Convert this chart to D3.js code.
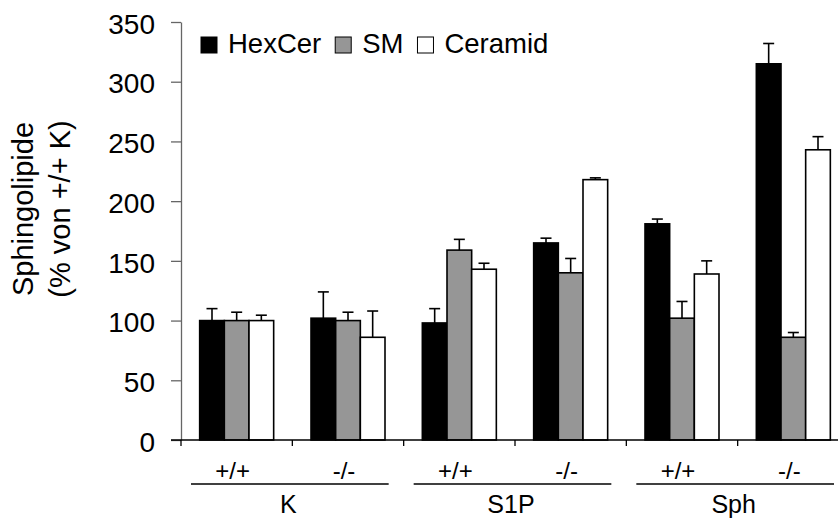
<!DOCTYPE html>
<html>
<head>
<meta charset="utf-8">
<script src="https://cdn.jsdelivr.net/npm/d3@7"></script>
<style>
  body { margin: 0; background: #fff; }
  text { font-family: "Liberation Sans", Arial, sans-serif; fill: #000; }
</style>
</head>
<body>
<div id="wrapper"></div>
<script>
const groups = ["K", "S1P", "Sph"]
const genotypes = ["+/+", "-/-"]
const series = ["HexCer", "SM", "Ceramid"]
const seriesColors = ["#000000", "#969696", "#ffffff"]

// one value per group x genotype: K +/+, K -/-, S1P +/+, S1P -/-, Sph +/+, Sph -/-
const hexcer = [100, 102, 98, 165, 181, 315]
const hexcerErr = [10, 22, 12, 4, 4, 17]
const sm = [100, 100, 159, 140, 102, 86]
const smErr = [7, 7, 9, 12, 14, 4]
const ceramid = [100, 86, 143, 218, 139, 243]
const ceramidErr = [4.5, 22, 5, 1.5, 11, 11]

const yTicks = [0, 50, 100, 150, 200, 250, 300, 350]

function drawChart() {
    const categories = []
    groups.forEach(g => genotypes.forEach(t => categories.push(g + " " + t)))

    const valuesBySeries = [hexcer, sm, ceramid]
    const errBySeries = [hexcerErr, smErr, ceramidErr]

    const dataset = []
    categories.forEach((c, i) => {
        series.forEach((s, j) => {
            dataset.push({
                category: c,
                series: s,
                value: valuesBySeries[j][i],
                err: errBySeries[j][i],
                color: seriesColors[j]
            })
        })
    })

    const dimensions = {
        width: 838,
        height: 518,
        margin: { top: 22, right: 0, bottom: 78, left: 181 },
    }
    dimensions.boundedHeight = dimensions.height
        - dimensions.margin.top
        - dimensions.margin.bottom

    const wrapper = d3.select("#wrapper")
        .append("svg")
        .attr("width", dimensions.width)
        .attr("height", dimensions.height)

    const bounds = wrapper.append("g")
        .attr("transform", `translate(${dimensions.margin.left},${dimensions.margin.top})`)

    // the last band runs past the right edge of the picture
    const xScale = d3.scaleBand()
        .domain(categories)
        .range([0, 668])
        .padding(0)

    const groupWidth = 74
    const innerScale = d3.scaleBand()
        .domain(series)
        .range([(xScale.bandwidth() - groupWidth) / 2, (xScale.bandwidth() + groupWidth) / 2])
        .padding(0)

    const yScale = d3.scaleLinear()
        .domain([0, 350])
        .range([dimensions.boundedHeight, 0])

    // y axis
    const yAxisGenerator = d3.axisLeft(yScale)
        .tickValues(yTicks)
        .tickSize(10)
        .tickPadding(16)
        .tickSizeOuter(0)

    const yAxis = bounds.append("g").call(yAxisGenerator)
    yAxis.select(".domain").attr("stroke", "#666").attr("stroke-width", 1.3)
    yAxis.selectAll(".tick line").attr("stroke", "#666").attr("stroke-width", 1.3)
    yAxis.selectAll(".tick text")
        .attr("font-size", 28)
        .attr("font-family", "Liberation Sans, Arial, sans-serif")
        .attr("fill", "#000")
        .attr("dy", "0.4em")

    // bars
    const bars = bounds.append("g")
    bars.selectAll("rect")
        .data(dataset)
        .join("rect")
        .attr("x", d => xScale(d.category) + innerScale(d.series))
        .attr("y", d => yScale(d.value))
        .attr("width", innerScale.bandwidth())
        .attr("height", d => yScale(0) - yScale(d.value))
        .attr("fill", d => d.color)
        .attr("stroke", "#000")
        .attr("stroke-width", 1.6)

    // error bars
    const errs = bounds.append("g")
        .attr("stroke", "#000")
        .attr("stroke-width", 1.6)
    const cx = d => xScale(d.category) + innerScale(d.series) + innerScale.bandwidth() / 2
    errs.selectAll("line.stem")
        .data(dataset)
        .join("line")
        .attr("class", "stem")
        .attr("x1", cx).attr("x2", cx)
        .attr("y1", d => yScale(d.value))
        .attr("y2", d => yScale(d.value + d.err))
    errs.selectAll("line.cap")
        .data(dataset)
        .join("line")
        .attr("class", "cap")
        .attr("x1", d => cx(d) - 5.5).attr("x2", d => cx(d) + 5.5)
        .attr("y1", d => yScale(d.value + d.err))
        .attr("y2", d => yScale(d.value + d.err))

    // x axis line with ticks on band edges
    const xAxis = bounds.append("g")
        .attr("transform", `translate(0,${dimensions.boundedHeight})`)
    xAxis.append("line")
        .attr("x1", -10).attr("x2", dimensions.width)
        .attr("y1", 0).attr("y2", 0)
        .attr("stroke", "#000").attr("stroke-width", 1.5)
    xAxis.selectAll("line.tick")
        .data(categories)
        .join("line")
        .attr("class", "tick")
        .attr("x1", d => xScale(d)).attr("x2", d => xScale(d))
        .attr("y1", 0).attr("y2", 6)
        .attr("stroke", "#000").attr("stroke-width", 1.3)

    // genotype labels
    xAxis.selectAll("text.geno")
        .data(categories)
        .join("text")
        .attr("class", "geno")
        .attr("x", d => xScale(d) + xScale.bandwidth() / 2 - 4)
        .attr("y", 39)
        .attr("text-anchor", "middle")
        .attr("font-size", 24)
        .text(d => d.split(" ")[1])

    // group brackets and labels
    groups.forEach(g => {
        const first = xScale(g + " " + genotypes[0])
        const last = xScale(g + " " + genotypes[1]) + xScale.bandwidth()
        xAxis.append("line")
            .attr("x1", first + 10).attr("x2", last - 15)
            .attr("y1", 44).attr("y2", 44)
            .attr("stroke", "#000").attr("stroke-width", 1.5)
        xAxis.append("text")
            .attr("x", (first + last) / 2 - 4)
            .attr("y", 73)
            .attr("text-anchor", "middle")
            .attr("font-size", 25)
            .text(g)
    })

    // legend
    const legend = wrapper.append("g")
        .attr("transform", "translate(201,37)")
    let lx = 0
    series.forEach((s, i) => {
        legend.append("rect")
            .attr("x", lx).attr("y", 0)
            .attr("width", 16).attr("height", 16)
            .attr("fill", seriesColors[i])
            .attr("stroke", "#000")
            .attr("stroke-width", 1)
        const t = legend.append("text")
            .attr("x", lx + 27)
            .attr("y", 16)
            .attr("font-size", 27.5)
            .text(s)
        lx += 27 + t.node().getComputedTextLength() + 14
    })

    // y label, two lines
    const yLabel = wrapper.append("text")
        .attr("transform", "translate(0,209) rotate(-90)")
        .attr("text-anchor", "middle")
        .attr("font-size", 29)
    yLabel.append("tspan").attr("x", 0).attr("y", 33).text("Sphingolipide")
    yLabel.append("tspan").attr("x", 0).attr("y", 70).text("(% von +/+ K)")
}

drawChart()
</script>
</body>
</html>
